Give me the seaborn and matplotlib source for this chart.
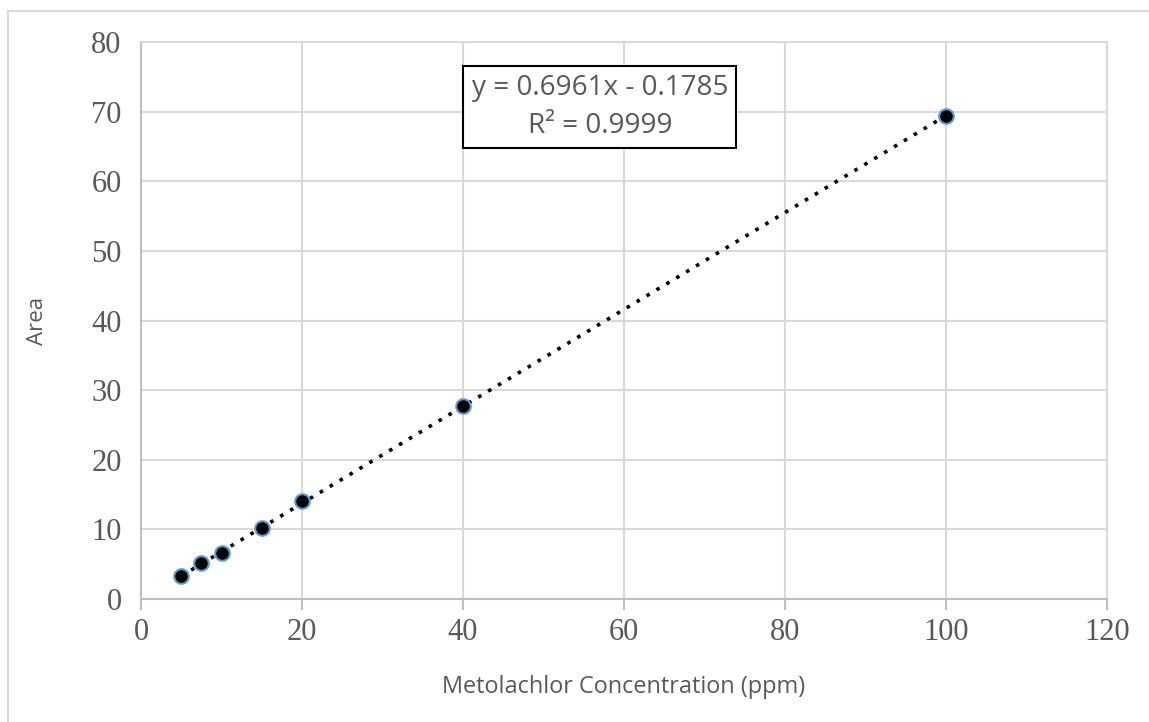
import numpy as np
import pandas as pd
import matplotlib
matplotlib.use("Agg")
import matplotlib.pyplot as plt
import seaborn as sns
from matplotlib.patches import Rectangle

# Data
concentration = [5, 7.5, 10, 15, 20, 40, 100]
area = [3.3, 5.2, 6.6, 10.2, 14.1, 27.7, 69.4]
slope = 0.6961
intercept = -0.1785
r_squared = 0.9999
x_ticks = [0, 20, 40, 60, 80, 100, 120]
y_ticks = [0, 10, 20, 30, 40, 50, 60, 70, 80]

sns.set_style("white")
plt.rcParams['font.family'] = ['Open Sans', 'DejaVu Sans']

W, H = 1149, 722
fig = plt.figure(figsize=(W / 100, H / 100), dpi=100)
fig.patch.set_facecolor("white")

# outer chart border
fig.patches.append(Rectangle((8 / W, -0.05), 1.2, 1 - 11 / H + 0.05, transform=fig.transFigure,
                             fill=False, edgecolor="#d9d9d9", linewidth=1.5, zorder=0))

ax = fig.add_axes([141 / W, (H - 599) / H, (1107 - 141) / W, (599 - 42) / H])

df = pd.DataFrame({"conc": concentration, "area": area})
xs = np.array([min(concentration), max(concentration)])
trend = pd.DataFrame({"conc": xs, "area": slope * xs + intercept})

sns.lineplot(data=trend, x="conc", y="area", ax=ax, color="black", linestyle=(0, (1, 2.2)),
             linewidth=2.6, zorder=3)
sns.scatterplot(data=df, x="conc", y="area", ax=ax, color="black", edgecolor="#5b9bd5",
                linewidth=1.5, s=110, zorder=4)

ax.set_xlim(0, 120)
ax.set_ylim(0, 80)
ax.set_xticks(x_ticks)
ax.set_yticks(y_ticks)
ax.grid(True, color="#d9d9d9", linewidth=1.5, zorder=0)
ax.set_axisbelow(True)

for side in ["top", "right"]:
    ax.spines[side].set_color("#d9d9d9")
    ax.spines[side].set_linewidth(1.5)
for side in ["left", "bottom"]:
    ax.spines[side].set_color("#bfbfbf")
    ax.spines[side].set_linewidth(1.5)

ax.tick_params(axis="x", direction="out", length=8, width=1.5, color="#bfbfbf", pad=6,
               labelsize=22, labelcolor="#595959", bottom=True)
ax.tick_params(axis="y", length=0, pad=14, labelsize=22, labelcolor="#595959")
for lab in ax.get_xticklabels() + ax.get_yticklabels():
    lab.set_fontfamily("Liberation Serif")

ax.set_xlabel("Metolachlor Concentration (ppm)", fontsize=16.9, color="#595959", labelpad=20)
ax.set_ylabel("Area", fontsize=16, color="#595959", labelpad=31)

ax.text(0.475, 0.883, f"y = {slope}x - {abs(intercept)}\nR² = {r_squared}",
        transform=ax.transAxes, ha="center", va="center", fontsize=20.1, color="#595959",
        linespacing=1.45,
        bbox=dict(boxstyle="square,pad=0.3", facecolor="white", edgecolor="black", linewidth=1.5),
        zorder=5)

fig.savefig("out.png", dpi=100)
